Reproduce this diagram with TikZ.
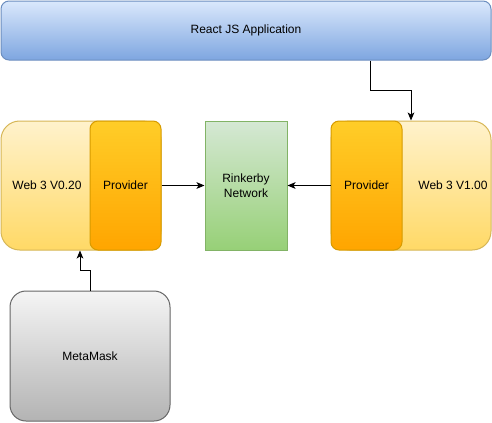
\documentclass[tikz,border=0pt]{standalone}
\usepackage{fontspec}
\setmainfont{Liberation Sans}
\usetikzlibrary{arrows.meta,calc}
\begin{document}
\begin{tikzpicture}[x=0.75pt,y=-0.75pt,
  box/.style={draw,line width=0.75pt,inner sep=0pt,font=\fontsize{9}{11}\selectfont,align=center},
  bluebox/.style={box,rounded corners=6pt,draw={rgb,255:red,108;green,142;blue,191},top color={rgb,255:red,218;green,232;blue,252},bottom color={rgb,255:red,126;green,166;blue,224}},
  yelbox/.style={box,rounded corners=14pt,draw={rgb,255:red,214;green,182;blue,86},top color={rgb,255:red,255;green,242;blue,204},bottom color={rgb,255:red,255;green,217;blue,102}},
  provbox/.style={box,rounded corners=6pt,draw={rgb,255:red,215;green,155;blue,0},top color={rgb,255:red,255;green,205;blue,40},bottom color={rgb,255:red,255;green,165;blue,0}},
  greenbox/.style={box,draw={rgb,255:red,130;green,179;blue,102},top color={rgb,255:red,213;green,232;blue,212},bottom color={rgb,255:red,151;green,208;blue,119}},
  graybox/.style={box,rounded corners=12pt,draw={rgb,255:red,102;green,102;blue,102},top color={rgb,255:red,245;green,245;blue,245},bottom color={rgb,255:red,179;green,179;blue,179}},
  lbl/.style={font=\fontsize{9}{11}\selectfont,inner sep=0pt},
  arr/.style={line width=0.75pt,-{Stealth[length=6pt,width=5pt,inset=1.5pt]}}]
\useasboundingbox (0,0) rectangle (492,422);
\node[bluebox,minimum width=490*0.75pt,minimum height=59*0.75pt] (react) at (246,30.5) {React JS Application};
\node[yelbox,minimum width=160*0.75pt,minimum height=129*0.75pt] (web3L) at (81,185.5) {};
\node[lbl] (tL) at (47,185.5) {Web 3 V0.20};
\node[provbox,minimum width=71*0.75pt,minimum height=129*0.75pt] (provL) at (125.5,185.5) {Provider};
\node[greenbox,minimum width=82*0.75pt,minimum height=129*0.75pt] (rink) at (246,185.5) {Rinkerby\\Network};
\node[yelbox,minimum width=160*0.75pt,minimum height=129*0.75pt] (web3R) at (411,185.5) {};
\node[lbl] (tR) at (453,185.5) {Web 3 V1.00};
\node[provbox,minimum width=71*0.75pt,minimum height=129*0.75pt] (provR) at (366.5,185.5) {Provider};
\node[graybox,minimum width=160*0.75pt,minimum height=130*0.75pt] (meta) at (90,356) {MetaMask};
\draw[arr] (provL.east) -- (rink.west);
\draw[arr] (provR.west) -- (rink.east);
\draw[arr] (react.south -| 370,0) -- (370,90) -| (web3R.north);
\draw[arr] (meta.north) -- ++(0,-20) -| ([xshift=-0.75pt]web3L.south);
\end{tikzpicture}
\end{document}
